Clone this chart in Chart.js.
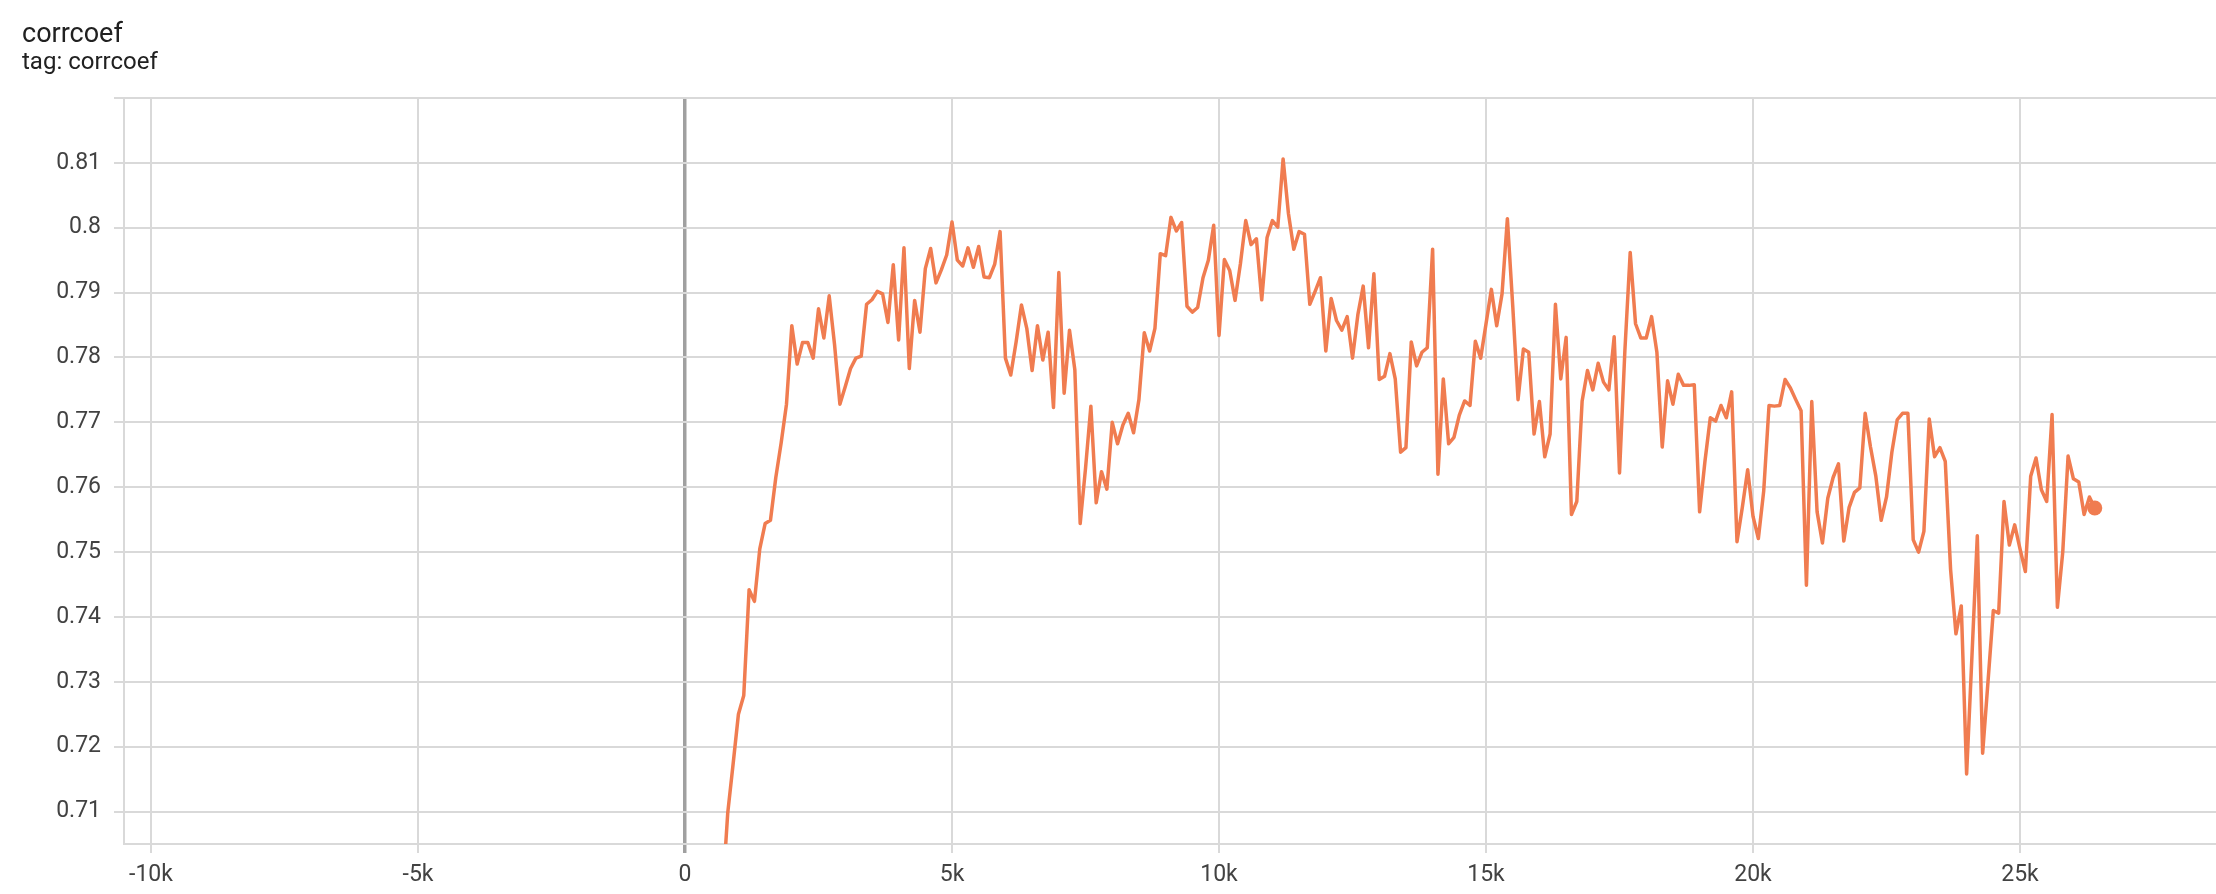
<!DOCTYPE html>
<html>
<head>
<meta charset="utf-8">
<script src="https://cdn.jsdelivr.net/npm/chart.js@4.4.1/dist/chart.umd.min.js"></script>
<style>
  html, body { margin: 0; padding: 0; background: #ffffff; width: 2216px; height: 894px; overflow: hidden; }
  body { font-family: Roboto, "Noto Sans", sans-serif; position: relative; }
  #title { position: absolute; left: 22px; top: 17px; font-size: 27px; color: #212121; white-space: nowrap; }
  #subtitle { position: absolute; left: 22px; top: 47px; font-size: 24px; color: #212121; white-space: nowrap; }
  #wrap { position: absolute; left: 0; top: 0; width: 2216px; height: 894px; }
</style>
</head>
<body>
<div id="wrap"><canvas id="chart" width="2216" height="894"></canvas></div>
<div id="title">corrcoef</div>
<div id="subtitle">tag: corrcoef</div>
<script>
// ---- data ----
const steps = [
  700, 800, 900, 1000, 1100, 1200, 1300, 1400, 1500, 1600, 1700, 1800, 1900,
  2000, 2100, 2200, 2300, 2400, 2500, 2600, 2700, 2800, 2900,
  3000, 3100, 3200, 3300, 3400, 3500, 3600, 3700, 3800, 3900,
  4000, 4100, 4200, 4300, 4400, 4500, 4600, 4700, 4800, 4900,
  5000, 5100, 5200, 5300, 5400, 5500, 5600, 5700, 5800, 5900,
  6000, 6100, 6200, 6300, 6400, 6500, 6600, 6700, 6800, 6900,
  7000, 7100, 7200, 7300, 7400, 7500, 7600, 7700, 7800, 7900,
  8000, 8100, 8200, 8300, 8400, 8500, 8600, 8700, 8800, 8900,
  9000, 9100, 9200, 9300, 9400, 9500, 9600, 9700, 9800, 9900,
  10000, 10100, 10200, 10300, 10400, 10500, 10600, 10700, 10800, 10900,
  11000, 11100, 11200, 11300, 11400, 11500, 11600, 11700, 11800, 11900,
  12000, 12100, 12200, 12300, 12400, 12500, 12600, 12700, 12800, 12900,
  13000, 13100, 13200, 13300, 13400, 13500, 13600, 13700, 13800, 13900,
  14000, 14100, 14200, 14300, 14400, 14500, 14600, 14700, 14800, 14900,
  15000, 15100, 15200, 15300, 15400, 15500, 15600, 15700, 15800, 15900,
  16000, 16100, 16200, 16300, 16400, 16500, 16600, 16700, 16800, 16900,
  17000, 17100, 17200, 17300, 17400, 17500, 17600, 17700, 17800, 17900,
  18000, 18100, 18200, 18300, 18400, 18500, 18600, 18700, 18800, 18900,
  19000, 19100, 19200, 19300, 19400, 19500, 19600, 19700, 19800, 19900,
  20000, 20100, 20200, 20300, 20400, 20500, 20600, 20700, 20800, 20900,
  21000, 21100, 21200, 21300, 21400, 21500, 21600, 21700, 21800, 21900,
  22000, 22100, 22200, 22300, 22400, 22500, 22600, 22700, 22800, 22900,
  23000, 23100, 23200, 23300, 23400, 23500, 23600, 23700, 23800, 23900,
  24000, 24100, 24200, 24300, 24400, 24500, 24600, 24700, 24800, 24900,
  25000, 25100, 25200, 25300, 25400, 25500, 25600, 25700, 25800, 25900,
  26000, 26100, 26200, 26300, 26400
];

const corrcoef = [
  0.6970, 0.7098, 0.7173, 0.7250, 0.7279, 0.7442, 0.7424, 0.7505, 0.7544, 0.7549, 0.7615, 0.7668, 0.7728,
  0.7849, 0.7790, 0.7823, 0.7823, 0.7799, 0.7875, 0.7830, 0.7895, 0.7820, 0.7728,
  0.7755, 0.7783, 0.7799, 0.7802, 0.7882, 0.7889, 0.7902, 0.7898, 0.7854, 0.7943,
  0.7827, 0.7969, 0.7783, 0.7888, 0.7839, 0.7937, 0.7968, 0.7915, 0.7935, 0.7958,
  0.8009, 0.7950, 0.7941, 0.7969, 0.7939, 0.7971, 0.7924, 0.7923, 0.7944, 0.7994,
  0.7799, 0.7773, 0.7824, 0.7881, 0.7845, 0.7780, 0.7849, 0.7796, 0.7839, 0.7723,
  0.7931, 0.7745, 0.7842, 0.7781, 0.7544, 0.7629, 0.7725, 0.7576, 0.7624, 0.7597,
  0.7700, 0.7667, 0.7696, 0.7714, 0.7684, 0.7735, 0.7838, 0.7810, 0.7845, 0.7960,
  0.7957, 0.8016, 0.7995, 0.8008, 0.7879, 0.7870, 0.7877, 0.7923, 0.7950, 0.8004,
  0.7834, 0.7951, 0.7934, 0.7888, 0.7944, 0.8011, 0.7974, 0.7983, 0.7889, 0.7985,
  0.8011, 0.8001, 0.8106, 0.8022, 0.7967, 0.7994, 0.7990, 0.7882, 0.7902, 0.7923,
  0.7810, 0.7891, 0.7857, 0.7842, 0.7863, 0.7799, 0.7866, 0.7910, 0.7815, 0.7929,
  0.7766, 0.7771, 0.7806, 0.7767, 0.7654, 0.7661, 0.7824, 0.7787, 0.7808, 0.7815,
  0.7967, 0.7620, 0.7767, 0.7667, 0.7677, 0.7711, 0.7733, 0.7726, 0.7825, 0.7799,
  0.7852, 0.7905, 0.7849, 0.7898, 0.8014, 0.7880, 0.7735, 0.7813, 0.7808, 0.7682,
  0.7732, 0.7647, 0.7682, 0.7882, 0.7767, 0.7831, 0.7558, 0.7578, 0.7733, 0.7780,
  0.7750, 0.7791, 0.7762, 0.7750, 0.7832, 0.7622, 0.7810, 0.7962, 0.7852, 0.7830,
  0.7830, 0.7863, 0.7808, 0.7662, 0.7764, 0.7728, 0.7774, 0.7757, 0.7757, 0.7758,
  0.7562, 0.7640, 0.7707, 0.7702, 0.7726, 0.7707, 0.7747, 0.7516, 0.7569, 0.7627,
  0.7555, 0.7521, 0.7594, 0.7726, 0.7725, 0.7726, 0.7766, 0.7753, 0.7735, 0.7718,
  0.7449, 0.7732, 0.7562, 0.7514, 0.7583, 0.7615, 0.7636, 0.7517, 0.7569, 0.7592,
  0.7599, 0.7714, 0.7662, 0.7617, 0.7549, 0.7585, 0.7654, 0.7704, 0.7714, 0.7714,
  0.7519, 0.7500, 0.7532, 0.7705, 0.7647, 0.7661, 0.7640, 0.7473, 0.7374, 0.7417,
  0.7158, 0.7340, 0.7525, 0.7190, 0.7300, 0.7410, 0.7406, 0.7578, 0.7511, 0.7542,
  0.7505, 0.7470, 0.7617, 0.7645, 0.7596, 0.7578, 0.7712, 0.7415, 0.7500, 0.7648,
  0.7613, 0.7608, 0.7558, 0.7585, 0.7568
];

const xTickValues = [-10000, -5000, 0, 5000, 10000, 15000, 20000, 25000];
const yTickValues = [0.71, 0.72, 0.73, 0.74, 0.75, 0.76, 0.77, 0.78, 0.79, 0.80, 0.81, 0.82];
const xRange = [-10506, 28670];
const yRange = [0.705, 0.82];

// ---- chart ----
const lineColor = 'rgb(240,124,80)';
const gridColor = '#d9d9d9';
const points = steps.map((s, i) => ({ x: s, y: corrcoef[i] }));
const lastIndex = points.length - 1;

new Chart(document.getElementById('chart').getContext('2d'), {
  type: 'line',
  data: {
    datasets: [{
      label: 'corrcoef',
      data: points,
      borderColor: lineColor,
      backgroundColor: lineColor,
      borderWidth: 3.5,
      tension: 0,
      fill: false,
      pointRadius: ctx => (ctx.dataIndex === lastIndex ? 7.5 : 0),
      pointBorderWidth: 0,
      pointBackgroundColor: lineColor,
      borderJoinStyle: 'round'
    }]
  },
  options: {
    responsive: false,
    animation: false,
    devicePixelRatio: 1,
    layout: { autoPadding: false, padding: { top: 98, right: 0, bottom: 0, left: 0 } },
    plugins: { legend: { display: false }, tooltip: { enabled: false }, title: { display: false } },
    scales: {
      x: {
        type: 'linear',
        min: xRange[0],
        max: xRange[1],
        afterBuildTicks: s => { s.ticks = xTickValues.map(v => ({ value: v })); },
        afterFit: s => { s.height = 50; },
        ticks: {
          autoSkip: false,
          maxRotation: 0,
          padding: 8,
          color: '#424242',
          font: { family: 'Roboto', size: 23 },
          callback: v => (v === 0 ? '0' : (v / 1000) + 'k')
        },
        grid: {
          color: c => (c.tick && c.tick.value === 0 ? '#a0a0a0' : gridColor),
          lineWidth: c => (c.tick && c.tick.value === 0 ? 3.5 : 2),
          tickLength: 9
        },
        border: { color: gridColor, width: 2 }
      },
      y: {
        type: 'linear',
        min: yRange[0],
        max: yRange[1],
        afterBuildTicks: s => { s.ticks = yTickValues.map(v => ({ value: v })); },
        afterFit: s => { s.width = 124; },
        ticks: {
          autoSkip: false,
          padding: 13,
          color: '#424242',
          font: { family: 'Roboto', size: 23 },
          callback: v => (v >= yRange[1] ? '' : String(v))
        },
        grid: { color: gridColor, lineWidth: 2, tickLength: 10 },
        border: { color: gridColor, width: 2 }
      }
    }
  }
});
</script>
</body>
</html>
